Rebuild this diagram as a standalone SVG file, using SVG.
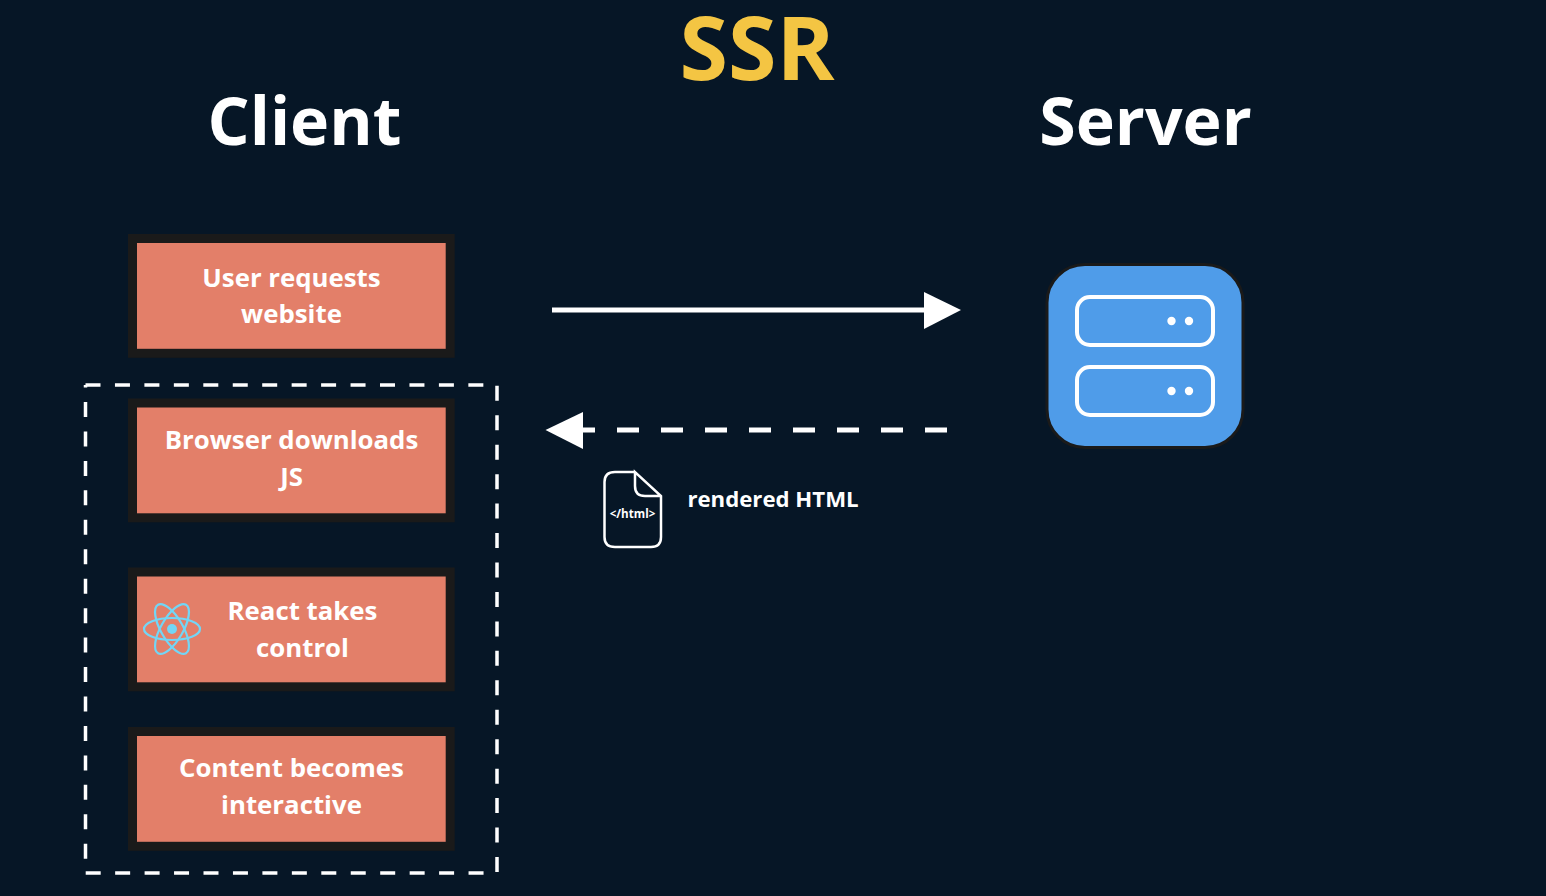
<svg xmlns="http://www.w3.org/2000/svg" width="1546" height="896" viewBox="0 0 1546 896">
<style>
text{font-family:"Open Sans","Liberation Sans",sans-serif;font-weight:700;fill:#fff;text-anchor:middle}
.box{fill:#e37f69;stroke:#1a1a1a;stroke-width:9}
.lbl{font-size:25.8px}
.head{font-size:66.200px}
.ln{fill:none;stroke:#fff}
</style>
<rect width="1546" height="896" fill="#061626"/>
<g id="title"><text x="757" y="79.500" font-size="88" style="fill:#f4c543">SSR</text></g>
<g id="client-heading"><text class="head" x="304.500" y="145">Client</text></g>
<g id="server-heading"><text class="head" x="1145.500" y="145">Server</text></g>
<g id="connectors">
<path class="ln" stroke-width="5" d="M552 310H926"/>
<polygon fill="#fff" points="924,292 961,310 924,329"/>
<path class="ln" stroke-width="5" stroke-dasharray="22 22" d="M947 430H572"/>
<polygon fill="#fff" points="545.500,430 583,412 583,449"/>
</g>
<g id="hydration-group"><path class="ln" stroke-width="3.500" stroke-dasharray="15 14.450" d="M85.500 385H497V873H85.500V385"/></g>
<g id="node-user-requests"><rect class="box" x="132.500" y="238.500" width="317.700" height="114.800"/><text class="lbl" x="291.500" y="287">User requests</text><text class="lbl" x="291.500" y="323">website</text></g>
<g id="node-browser-downloads"><rect class="box" x="132.500" y="403" width="317.700" height="114.800"/><text class="lbl" x="291.500" y="449">Browser downloads</text><text class="lbl" x="291.500" y="485.500">JS</text></g>
<g id="node-react-control"><rect class="box" x="132.500" y="572" width="317.700" height="114.800"/><text class="lbl" x="302.500" y="620">React takes</text><text class="lbl" x="302.500" y="657">control</text>
<g id="react-logo" fill="none" stroke="#72d6f6" stroke-width="2.200"><ellipse cx="172" cy="629" rx="28" ry="11"/><ellipse cx="172" cy="629" rx="28" ry="11" transform="rotate(60 172 629)"/><ellipse cx="172" cy="629" rx="28" ry="11" transform="rotate(120 172 629)"/><circle cx="172" cy="629" r="5" fill="#72d6f6" stroke="none"/></g></g>
<g id="node-content-interactive"><rect class="box" x="132.500" y="731.500" width="317.700" height="114.800"/><text class="lbl" x="291.500" y="777">Content becomes</text><text class="lbl" x="291.500" y="813.500">interactive</text></g>
<g id="node-server"><rect x="1047" y="264.500" width="196" height="183" rx="38" fill="#4f9ce9" stroke="#1a1a1a" stroke-width="3"/>
<rect x="1077" y="297" width="136" height="48" rx="13" fill="none" stroke="#fff" stroke-width="4"/><rect x="1077" y="367" width="136" height="48" rx="13" fill="none" stroke="#fff" stroke-width="4"/>
<g fill="#fff"><circle cx="1171.500" cy="321" r="4.200"/><circle cx="1189" cy="321" r="4.200"/><circle cx="1171.500" cy="391" r="4.200"/><circle cx="1189" cy="391" r="4.200"/></g></g>
<g id="html-file"><path class="ln" stroke-width="2.500" d="M635 472H615Q604.500 472 604.500 482V537Q604.500 547 615 547H651Q661 547 661 537V496L635 472V486Q635 496 645 496H661"/><text x="632.500" y="517.500" font-size="11.600">&lt;/html&gt;</text></g>
<g id="html-label"><text x="773" y="507" font-size="22.200">rendered HTML</text></g>
</svg>
